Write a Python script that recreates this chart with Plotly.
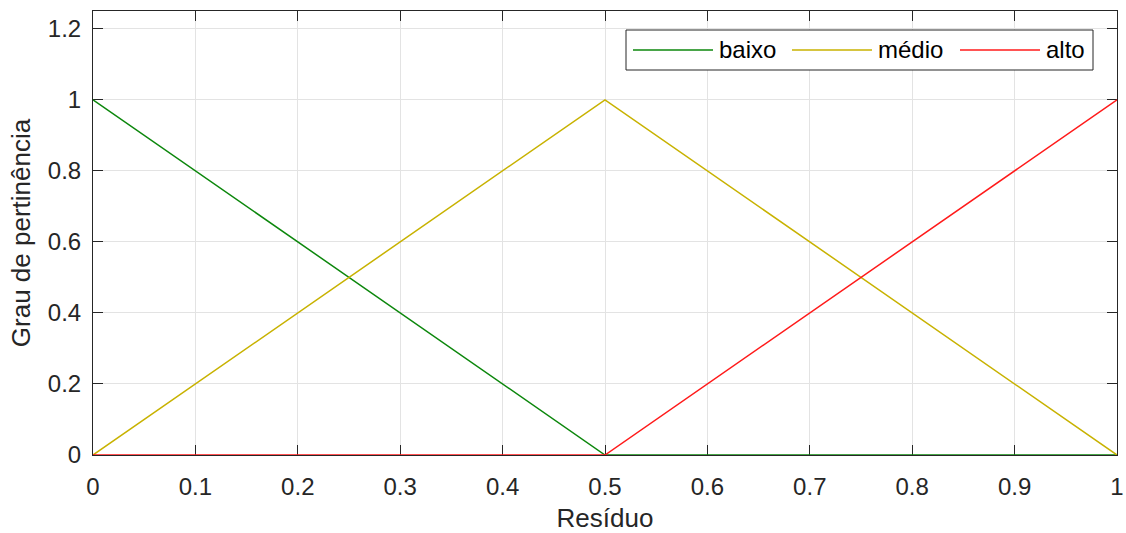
import plotly.graph_objects as go

# ---- data ----
x_vals = [0.0, 0.5, 1.0]
baixo = [1.0, 0.0, 0.0]
medio = [0.0, 1.0, 0.0]
alto = [0.0, 0.0, 1.0]
series_names = ["baixo", "médio", "alto"]
series_colors = ["#0c870c", "#c8b200", "#ff1a1a"]
x_ticks = [0, 0.1, 0.2, 0.3, 0.4, 0.5, 0.6, 0.7, 0.8, 0.9, 1]
y_ticks = [0, 0.2, 0.4, 0.6, 0.8, 1, 1.2]

W, H = 1126, 533
ML, MR, MT, MB = 93, 9, 11, 78
PW, PH = W - ML - MR, H - MT - MB
FONT = "Liberation Sans, Arial, Helvetica, sans-serif"
TXT = "#262626"

fig = go.Figure()
for name, ys, col in zip(series_names, [baixo, medio, alto], series_colors):
    fig.add_trace(go.Scatter(x=x_vals, y=ys, mode="lines", name=name,
                             line=dict(color=col, width=1.5), showlegend=False))

axis_common = dict(showline=True, linecolor=TXT, linewidth=1, mirror="ticks",
                   ticks="inside", ticklen=10, tickwidth=1, tickcolor=TXT,
                   showgrid=True, gridcolor="#e3e3e3", gridwidth=1, zeroline=False,
                   tickfont=dict(family=FONT, size=24, color=TXT),
                   layer="below traces", automargin=False)

fig.update_layout(
    width=W, height=H,
    margin=dict(l=ML, r=MR, t=MT, b=MB, autoexpand=False),
    paper_bgcolor="white", plot_bgcolor="white",
    xaxis=dict(range=[0, 1], tickvals=x_ticks, ticktext=[f"{v:g}" for v in x_ticks],
               ticklabelstandoff=10,
               title=dict(text="Resíduo", font=dict(family=FONT, size=26, color=TXT), standoff=16),
               **axis_common),
    yaxis=dict(range=[0, 1.25], tickvals=y_ticks, ticktext=[f"{v:g}" for v in y_ticks],
               ticklabelstandoff=6,
               title=dict(text="Grau de pertinência", font=dict(family=FONT, size=26, color=TXT), standoff=9),
               **axis_common),
)

# ---- manual legend (MATLAB-style, long line samples) ----
def px2x(px):
    return (px - ML) / PW

def py2y(py):
    return (H - MB - py) / PH

box = (626, 30, 1093, 70)
fig.add_shape(type="rect", xref="paper", yref="paper",
              x0=px2x(box[0]), x1=px2x(box[2]), y0=py2y(box[3]), y1=py2y(box[1]),
              line=dict(color=TXT, width=1), fillcolor="white", layer="above")
entry_starts = [633, 792, 960]
ly = py2y(50)
for name, col, sx in zip(series_names, series_colors, entry_starts):
    fig.add_shape(type="line", xref="paper", yref="paper",
                  x0=px2x(sx), x1=px2x(sx + 80), y0=ly, y1=ly,
                  line=dict(color=col, width=1.5), layer="above")
    fig.add_annotation(xref="paper", yref="paper", x=px2x(sx + 84), y=ly,
                       text=name, showarrow=False, xanchor="left", yanchor="middle",
                       font=dict(family=FONT, size=24, color="black"))

fig.write_html("out.html")
